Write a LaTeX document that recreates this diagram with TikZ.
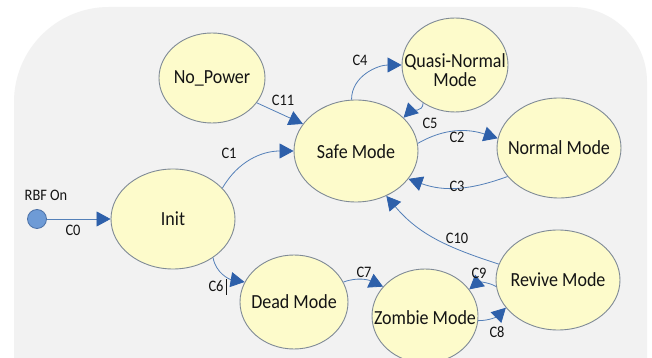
\documentclass[tikz,border=0pt]{standalone}
\usepackage{fontspec}
\setmainfont{Carlito}[FakeStretch=0.9]
\usetikzlibrary{shapes.geometric,arrows.meta}
\definecolor{bgc}{HTML}{F2F2F2}
\definecolor{ellfill}{HTML}{FDFBCB}
\definecolor{elldraw}{HTML}{7F8A96}
\definecolor{linec}{HTML}{5480B8}
\definecolor{arrc}{HTML}{2E60AA}
\definecolor{dotfill}{HTML}{6E9BD6}
\definecolor{dotdraw}{HTML}{4C72A8}
\definecolor{txtc}{HTML}{141414}
\tikzset{
  st/.style={ellipse, draw=elldraw, fill=ellfill, line width=0.9pt, inner sep=0pt},
  txt/.style={inner sep=0pt, text=txtc, font=\fontsize{20}{20}\selectfont},
  lbl/.style={inner sep=0pt, text=txtc, font=\fontsize{16}{16}\selectfont},
  conn/.style={draw=linec, line width=0.8pt, -{Triangle[length=14pt,width=15pt,color=arrc]}}
}
\begin{document}
\begin{tikzpicture}[x=1pt,y=1pt]
\useasboundingbox (0,0) rectangle (652,358);
\clip (0,0) rectangle (652,358);
\fill[white] (0,0) rectangle (652,358);
\fill[bgc] (14,-20) -- (14,256) arc[start angle=180,end angle=90,radius=95pt]
  -- (572,351) arc[start angle=90,end angle=0,radius=75pt] -- (647,-20) -- cycle;

% states
\node[st, minimum width=106pt, minimum height=90pt] (nopower) at (212,280) {};
\node[st, minimum width=124pt, minimum height=102pt] (safe) at (356,207) {};
\node[st, minimum width=106pt, minimum height=94pt] (quasi) at (455,293) {};
\node[st, minimum width=124pt, minimum height=100pt] (normal) at (559,210) {};
\node[st, minimum width=124pt, minimum height=100pt] (init) at (173,139) {};
\node[st, minimum width=108pt, minimum height=94pt] (dead) at (294,56) {};
\node[st, minimum width=106pt, minimum height=94pt] (zombie) at (425,42) {};
\node[st, minimum width=124pt, minimum height=100pt] (revive) at (558,78) {};
\node[circle, draw=dotdraw, fill=dotfill, line width=0.8pt, minimum size=19pt, inner sep=0pt] (dot) at (37,139) {};

\node[txt] (nopower-t) at (212,280) {No\_Power};
\node[txt] (safe-t) at (356,206) {Safe Mode};
\node[txt] (quasi-t1) at (455,296) {Quasi-Normal};
\node[txt] (quasi-t2) at (455,278) {Mode};
\node[txt] (normal-t) at (559,210) {Normal Mode};
\node[txt] (init-t) at (173,139) {Init};
\node[txt] (dead-t) at (294,56) {Dead Mode};
\node[txt] (zombie-t) at (425,40) {Zombie Mode};
\node[txt] (revive-t) at (558,78) {Revive Mode};
\node[lbl] (rbf) at (46,163) {RBF On};

% connectors
\draw[conn] (dot) -- (init);
\draw[conn] (init.32) to[out=60,in=180] (safe.180);
\draw[conn] (nopower.-29) -- (safe.153);
\draw[conn] (safe.95) to[out=90,in=180] (quasi.180);
\draw[conn] (quasi.-130) to[out=-90,in=45] (safe.35);
\draw[conn] (safe.7) to[out=30,in=162] (normal.171);
\draw[conn] (normal.209) to[out=200,in=-20] (safe.-28);
\draw[conn] (revive.165) to[out=162,in=-50] (safe.-56);
\draw[conn] (init.-44) to[out=-80,in=170] (dead.158);
\draw[conn] (dead.22) to[out=20,in=155] (zombie.145);
\draw[conn] (revive.186) to[out=150,in=40] (zombie.31);
\draw[conn] (zombie.-5) to[out=0,in=225] (revive.208);

% connector labels
\node[lbl] (c0) at (73,128) {C0};
\node[lbl] (c1) at (229,205) {C1};
\node[lbl] (c11) at (283,258) {C11};
\node[lbl] (c4) at (360,298) {C4};
\node[lbl] (c5) at (430,235) {C5};
\node[lbl] (c2) at (457,221) {C2};
\node[lbl] (c3) at (457,172) {C3};
\node[lbl] (c10) at (457,120) {C10};
\node[lbl] (c6) at (216,72) {C6};
\draw[txtc, line width=0.7pt] (226,63) -- (226,79);
\node[lbl] (c7) at (364,86) {C7};
\node[lbl] (c9) at (479,85) {C9};
\node[lbl] (c8) at (497,26) {C8};
\end{tikzpicture}
\end{document}
